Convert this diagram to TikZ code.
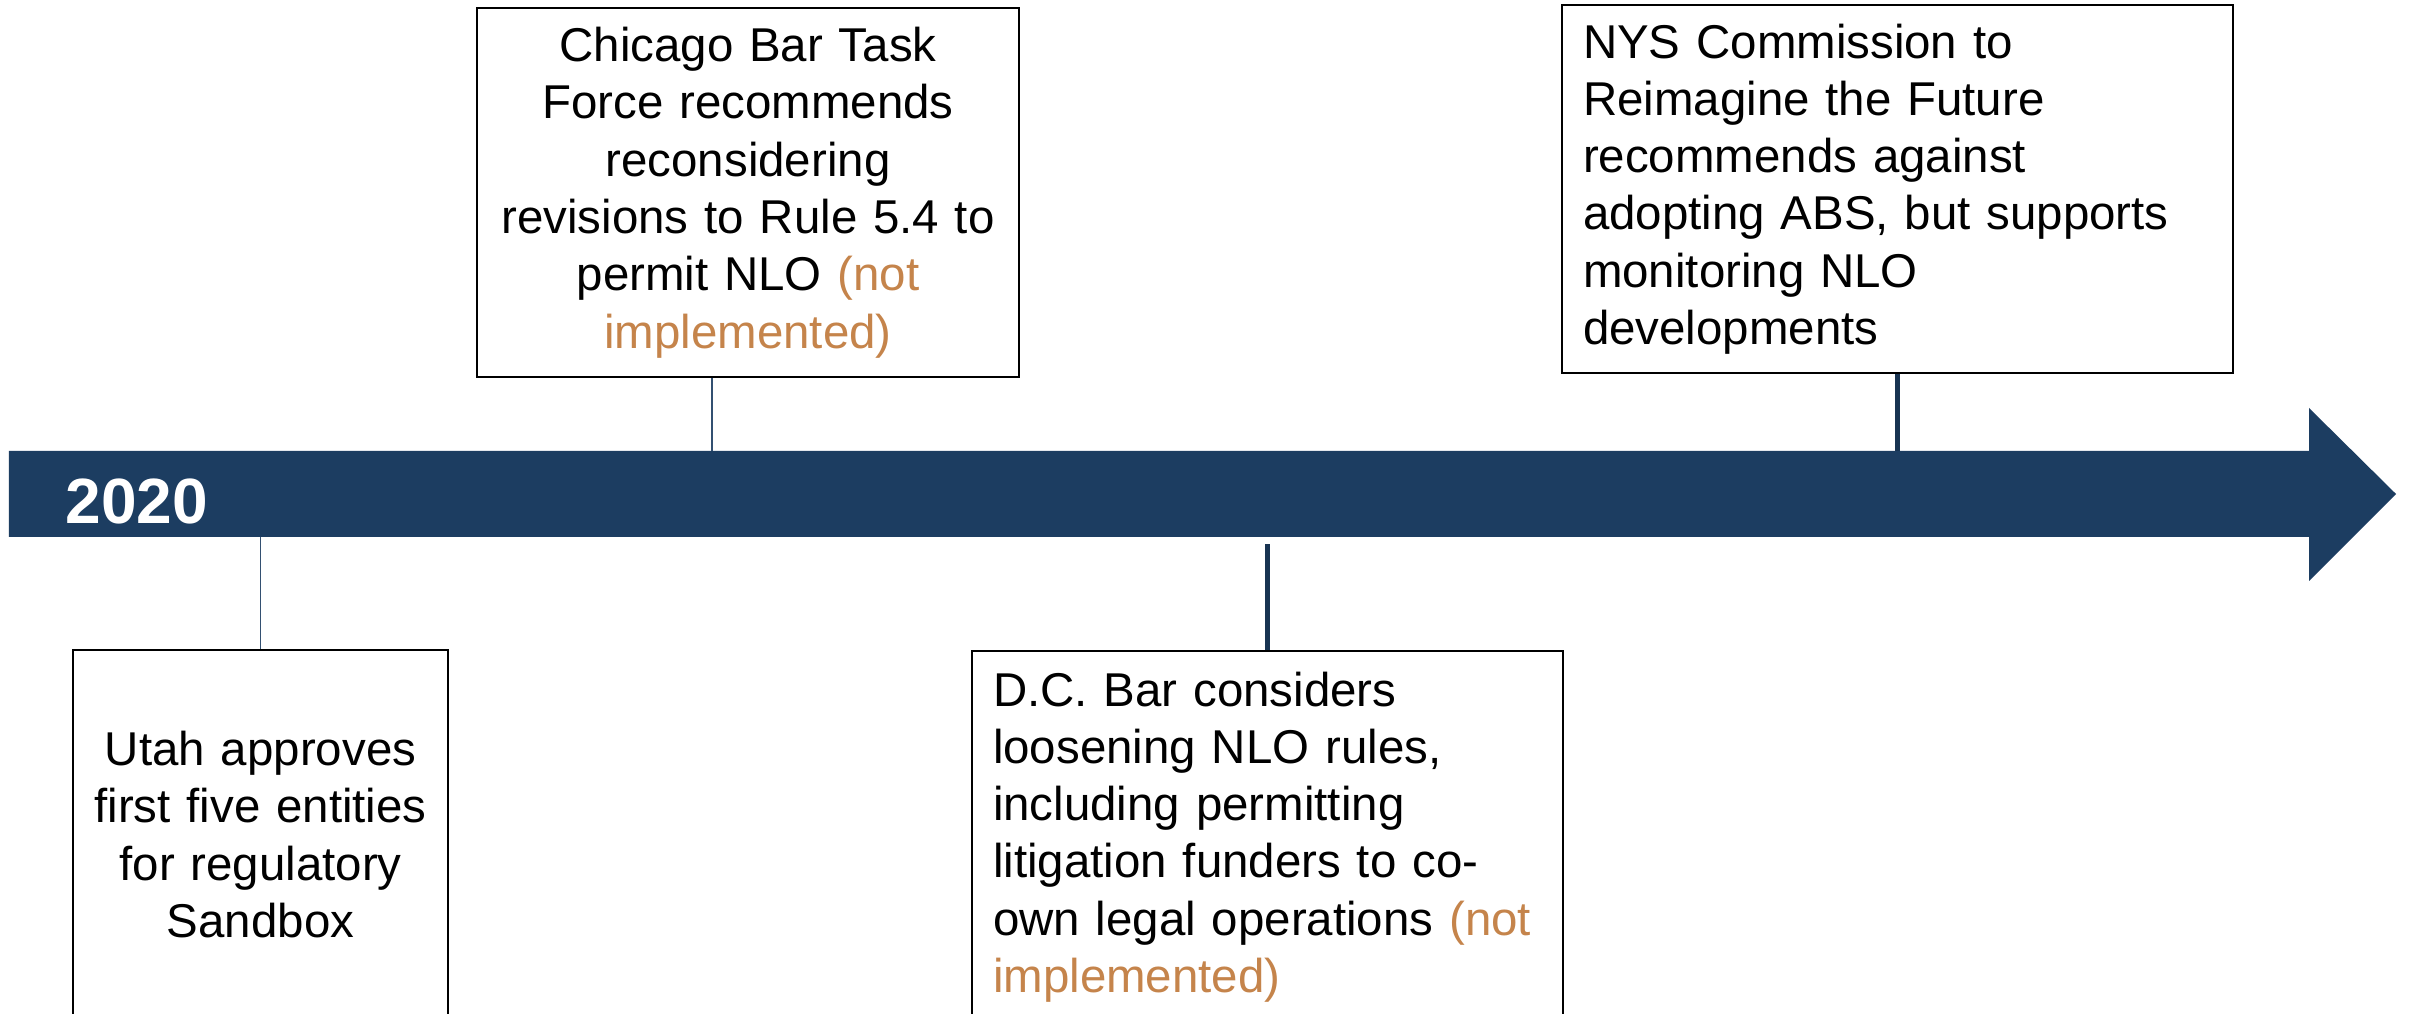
\documentclass[tikz,border=0pt]{standalone}
\usepackage{fontspec}
\setmainfont{Liberation Sans}
\definecolor{barblue}{RGB}{28,61,97}
\definecolor{notdone}{RGB}{197,132,75}
\newcommand{\notimpl}[1]{\textcolor{notdone}{#1}}

\begin{document}
\begin{tikzpicture}
  [event/.style={draw=black,line width=0.6pt,fill=white,anchor=north west,inner xsep=0.21cm,inner ysep=0.1cm,
     minimum height=3.69cm,font=\fontsize{13.5pt}{16.3pt}\selectfont},
   pin/.style={draw=barblue!90!white,line width=0.5pt},
   bigpin/.style={draw=barblue!85!black,line width=1.2pt}]

  \clip (0,0) rectangle (24.12,-10.14);
  \fill[white] (0,0) rectangle (24.12,-10.14);

  \fill[barblue] (0.09,-4.51) -- (23.09,-4.51) -- (23.09,-4.08) -- (23.96,-4.94)
    -- (23.09,-5.81) -- (23.09,-5.37) -- (0.09,-5.37) -- cycle;
  \coordinate (bartop) at (0,-4.51);
  \coordinate (barbot) at (0,-5.37);
  \coordinate (chipin) at (7.12,-4.51);

  \node[anchor=base west,text=white,inner sep=0pt,font=\fontsize{18.2pt}{20pt}\selectfont\bfseries] (year) at (0.65,-5.24) {2020};

  \node[event,text width=5.00cm,align=center] (chicago) at (4.76,-0.07)
    {Chicago Bar Task\\Force recommends\\reconsidering\\revisions to Rule 5.4 to\\permit NLO \notimpl{(not}\\\notimpl{implemented)}};
  \node[event,text width=6.29cm,minimum height=3.68cm,align=left] (nys) at (15.61,-0.04)
    {NYS Commission to\\Reimagine the Future\\recommends against\\adopting ABS, but supports\\monitoring NLO\\developments};
  \node[event,text width=3.33cm,align=center] (utah) at (0.72,-6.49)
    {Utah approves\\first five entities\\for regulatory\\Sandbox};
  \node[event,text width=5.49cm,minimum height=3.72cm,align=left] (dc) at (9.71,-6.50)
    {D.C. Bar considers\\loosening NLO rules,\\including permitting\\litigation funders to co-\\own legal operations \notimpl{(not}\\\notimpl{implemented)}};

  \draw[pin] (chicago.south -| chipin) -- (chipin);
  \draw[pin] (utah.north) -- (utah.north |- barbot);
  \draw[bigpin] (nys.south) -- (nys.south |- bartop);
  \draw[bigpin] (dc.north) -- ([yshift=-0.07cm]dc.north |- barbot);

\end{tikzpicture}
\end{document}
